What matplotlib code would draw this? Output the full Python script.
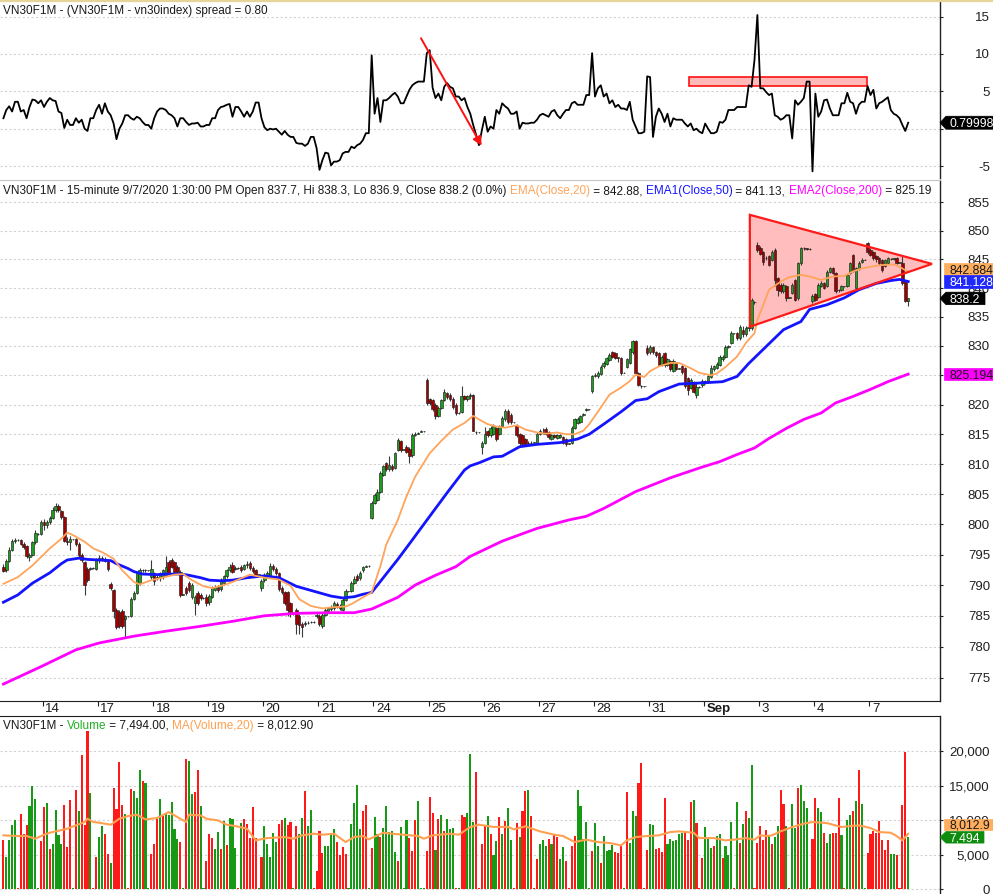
import numpy as np
import matplotlib
matplotlib.use("Agg")
import matplotlib.pyplot as plt
from matplotlib.patches import Polygon, Rectangle
from matplotlib.lines import Line2D
from matplotlib.ticker import FixedLocator, NullLocator, FuncFormatter
from matplotlib.transforms import ScaledTranslation

# ---------------------------------------------------------------
# VN30F1M 15-minute bars, 13 Aug - 7 Sep 2020
# ---------------------------------------------------------------
day_labels = ["14", "17", "18", "19", "20", "21", "24", "25", "26", "27",
              "28", "31", "Sep", "3", "4", "7"]
day_start = [13, 32, 51, 70, 89, 108, 127, 146, 165, 184, 203, 222, 241, 260, 279, 298]

opens = [
    793.0, 792.4, 794.0, 795.7, 797.2, 797.4, 797.4, 796.8, 796.4, 794.6, 794.9, 797.0, 798.4,
    798.4, 800.4, 799.8, 800.3, 801.0, 802.4, 803.0, 802.2, 801.2, 797.3, 797.0, 797.5, 797.5, 796.8, 794.9, 793.8, 792.6, 792.7, 792.8,
    792.6, 794.2, 794.4, 794.3, 794.0, 790.2, 789.2, 785.9, 785.6, 785.8, 784.4, 784.9, 785.0, 787.8, 788.7, 790.3, 792.4, 792.5, 792.4,
    791.3, 791.9, 791.2, 791.1, 791.3, 791.6, 793.8, 794.1, 793.8, 793.0, 792.2, 788.4, 789.5, 790.3, 788.1, 787.0, 788.7, 788.4, 787.9,
    788.1, 787.2, 788.1, 789.2, 789.7, 789.4, 790.3, 791.4, 792.4, 793.2, 792.7, 792.8, 793.0, 792.6, 793.2, 793.6, 792.8, 792.5, 791.7,
    789.6, 790.8, 791.5, 791.5, 793.1, 792.6, 792.0, 789.5, 788.9, 788.9, 787.0, 785.3, 786.0, 785.0, 783.6, 783.7, 783.8, 784.0, 784.0,
    785.0, 785.0, 783.4, 785.1, 785.8, 786.1, 786.2, 786.9, 786.6, 786.0, 787.6, 789.0, 789.0, 790.4, 791.5, 791.2, 792.4, 793.0, 793.1,
    801.0, 803.5, 804.0, 805.4, 808.2, 810.2, 809.1, 809.7, 809.3, 812.4, 813.8, 812.4, 812.9, 812.6, 811.5, 814.9, 815.1, 815.4, 815.5,
    824.2, 820.9, 820.8, 820.0, 818.1, 819.4, 820.8, 821.9, 821.7, 821.0, 819.9, 818.6, 818.8, 821.4, 821.0, 821.4, 821.6, 815.4, 815.3,
    812.8, 813.6, 815.5, 814.8, 815.0, 816.1, 815.0, 816.4, 817.5, 818.9, 818.3, 817.0, 816.6, 815.0, 814.8, 814.2, 813.6, 813.5, 813.6,
    813.6, 815.0, 815.3, 815.9, 815.3, 814.2, 814.8, 814.4, 814.5, 814.5, 814.2, 813.4, 813.6, 816.1, 816.9, 817.1, 818.3, 819.1, 819.2,
    822.3, 824.9, 824.8, 825.2, 826.5, 827.0, 827.6, 828.9, 828.8, 828.0, 828.0, 825.4, 826.4, 827.1, 828.9, 830.8, 825.4, 823.2, 823.1,
    829.6, 828.9, 829.8, 829.0, 828.8, 826.8, 828.8, 826.7, 827.4, 825.8, 827.1, 826.1, 826.5, 826.2, 824.5, 822.8, 823.9, 821.7, 823.0,
    823.3, 824.0, 823.9, 824.7, 826.0, 826.3, 826.7, 827.7, 828.2, 829.9, 830.5, 832.2, 832.2, 831.3, 832.8, 832.0, 833.1, 833.1, 837.6,
    847.5, 847.0, 846.3, 845.2, 845.5, 844.9, 846.6, 841.7, 840.6, 839.4, 840.3, 838.3, 839.1, 841.4, 838.2, 844.3, 846.9, 846.9, 846.8,
    837.7, 838.9, 838.4, 840.4, 840.9, 840.4, 842.8, 843.4, 842.6, 839.7, 839.7, 840.3, 840.3, 842.6, 845.8, 840.0, 843.4, 844.6, 844.9,
    847.8, 846.6, 846.3, 845.5, 845.2, 844.9, 843.9, 844.4, 845.0, 845.0, 845.2, 844.4, 844.3, 841.1, 837.7,
]
highs = [
    793.4, 794.3, 796.2, 797.6, 797.8, 797.5, 797.6, 797.0, 796.6, 795.2, 797.3, 799.0, 798.6,
    800.7, 800.8, 800.7, 801.4, 802.8, 803.5, 803.3, 802.4, 801.4, 797.9, 798.1, 797.6, 797.7, 797.0, 795.2, 794.0, 793.0, 793.0, 792.9,
    794.5, 794.9, 794.7, 794.6, 794.2, 790.5, 789.4, 786.2, 786.0, 786.1, 785.2, 785.0, 788.0, 789.0, 792.2, 792.8, 792.7, 792.6, 792.5,
    794.1, 792.2, 791.6, 792.2, 792.7, 794.7, 794.1, 794.4, 794.0, 793.3, 792.4, 788.5, 789.8, 790.6, 790.3, 788.3, 789.0, 788.7, 788.0,
    788.5, 788.5, 789.8, 790.0, 790.0, 791.1, 791.7, 792.7, 793.4, 793.8, 793.1, 792.9, 793.3, 793.5, 794.0, 793.9, 793.1, 792.6, 791.8,
    791.0, 792.0, 792.3, 793.6, 793.5, 792.9, 792.2, 789.8, 789.1, 789.1, 787.3, 785.4, 786.2, 785.3, 784.0, 784.1, 784.1, 784.2, 784.1,
    785.6, 785.3, 785.6, 786.3, 786.5, 786.7, 787.4, 787.2, 786.9, 787.9, 789.3, 789.1, 790.7, 791.4, 791.8, 792.3, 793.1, 793.3, 793.2,
    803.8, 805.2, 805.8, 808.8, 809.9, 810.4, 811.3, 810.0, 812.1, 814.4, 814.1, 812.5, 813.2, 812.9, 815.2, 815.3, 815.4, 815.7, 815.6,
    824.5, 821.2, 821.0, 820.2, 819.7, 821.0, 822.7, 822.2, 822.0, 821.3, 820.2, 818.7, 823.1, 821.7, 821.6, 822.0, 821.8, 815.6, 815.4,
    813.9, 816.3, 815.8, 816.4, 816.7, 816.3, 816.6, 818.1, 819.2, 819.2, 818.6, 817.1, 816.8, 815.2, 815.0, 814.4, 813.8, 813.9, 813.7,
    815.3, 815.9, 816.1, 816.2, 815.6, 815.0, 815.0, 815.0, 815.0, 814.7, 814.4, 813.5, 816.4, 817.8, 817.9, 818.3, 818.6, 819.4, 819.3,
    825.0, 825.4, 825.7, 826.7, 827.4, 828.2, 828.8, 829.2, 829.0, 828.2, 828.2, 825.5, 828.0, 829.6, 831.1, 831.0, 825.6, 823.4, 823.2,
    830.1, 830.1, 830.0, 829.2, 829.0, 828.5, 829.0, 828.0, 827.6, 827.7, 827.3, 826.2, 826.7, 826.4, 824.7, 824.5, 824.1, 823.6, 823.1,
    824.3, 824.2, 825.0, 826.7, 826.8, 827.3, 828.5, 828.5, 830.2, 830.2, 832.5, 832.3, 832.4, 833.6, 833.5, 833.4, 833.6, 838.2, 837.8,
    848.0, 847.3, 846.5, 845.6, 845.7, 846.6, 846.9, 842.0, 840.9, 840.9, 840.5, 838.4, 840.9, 841.6, 844.6, 847.2, 847.2, 847.0, 846.9,
    838.9, 839.2, 840.9, 841.2, 841.1, 843.1, 843.7, 843.6, 842.8, 839.9, 840.6, 840.4, 842.5, 844.6, 846.0, 843.7, 844.7, 845.2, 845.0,
    848.1, 846.9, 846.5, 845.8, 845.4, 845.1, 845.1, 845.4, 845.3, 845.3, 845.4, 844.5, 845.5, 841.3, 838.3,
]
lows = [
    792.1, 792.2, 793.8, 795.5, 796.9, 797.3, 796.5, 795.9, 794.4, 793.9, 794.7, 796.8, 798.2,
    798.2, 799.1, 799.4, 800.0, 800.8, 802.0, 802.0, 800.9, 797.0, 796.6, 795.8, 797.4, 796.4, 794.5, 793.8, 788.4, 790.5, 792.4, 792.7,
    792.4, 793.6, 793.9, 793.7, 792.3, 789.2, 784.6, 782.8, 783.0, 783.0, 781.6, 784.8, 784.8, 787.5, 788.5, 790.0, 792.2, 792.2, 792.3,
    791.0, 790.0, 790.9, 790.7, 791.0, 791.4, 791.6, 792.8, 791.9, 791.8, 788.0, 788.3, 788.3, 788.9, 787.8, 785.1, 786.7, 787.5, 787.8,
    786.6, 786.8, 787.9, 789.0, 788.8, 789.1, 790.0, 791.2, 792.2, 791.9, 792.4, 792.7, 792.1, 792.4, 792.8, 792.5, 792.0, 791.5, 791.6,
    789.0, 790.5, 791.2, 791.3, 792.3, 791.6, 789.1, 788.5, 786.7, 785.0, 784.8, 785.2, 782.1, 782.0, 781.5, 783.3, 783.6, 783.8, 783.9,
    784.7, 783.3, 783.0, 784.9, 785.5, 785.8, 785.9, 786.2, 786.0, 785.8, 787.4, 788.9, 788.8, 790.2, 790.6, 790.9, 792.2, 792.9, 793.0,
    800.8, 803.3, 803.8, 805.2, 808.0, 808.8, 808.9, 808.8, 809.1, 812.2, 812.1, 812.3, 811.8, 810.2, 811.2, 814.7, 815.0, 815.3, 815.4,
    820.0, 820.0, 818.9, 817.5, 817.9, 819.2, 820.6, 821.0, 820.7, 819.3, 818.3, 818.5, 818.6, 820.8, 820.7, 821.0, 815.5, 815.1, 815.2,
    811.6, 813.4, 814.5, 814.6, 814.8, 813.9, 814.8, 816.2, 817.3, 816.8, 816.8, 816.9, 814.5, 812.8, 813.0, 813.2, 813.2, 813.3, 813.5,
    813.4, 814.8, 815.0, 814.8, 814.2, 814.0, 814.3, 814.2, 814.3, 813.4, 813.1, 813.3, 813.3, 815.9, 816.7, 816.9, 818.0, 819.0, 819.1,
    822.0, 824.7, 824.5, 825.0, 826.3, 826.8, 827.4, 828.0, 827.7, 827.2, 825.0, 825.3, 826.2, 826.9, 828.7, 825.1, 823.1, 822.9, 823.0,
    828.5, 828.7, 828.6, 828.2, 826.5, 826.6, 826.4, 826.5, 825.8, 825.6, 825.9, 826.0, 825.2, 822.8, 821.7, 822.6, 822.0, 821.1, 822.9,
    823.0, 823.5, 823.7, 824.5, 825.8, 826.1, 826.5, 827.5, 828.0, 829.6, 830.3, 832.1, 831.0, 831.1, 831.6, 831.8, 832.6, 832.8, 837.3,
    846.3, 845.7, 844.0, 844.8, 843.8, 844.7, 840.3, 838.6, 839.1, 839.2, 837.8, 838.2, 838.9, 837.7, 838.0, 844.0, 846.7, 846.6, 846.7,
    837.4, 837.8, 838.2, 840.2, 839.8, 840.2, 842.6, 842.4, 839.1, 839.3, 839.5, 840.2, 840.1, 842.4, 842.8, 839.4, 843.2, 844.4, 844.8,
    846.0, 845.5, 844.9, 844.6, 844.0, 842.8, 843.7, 844.2, 844.8, 844.8, 844.2, 844.3, 840.5, 837.5, 836.9,
]
closes = [
    792.3, 794.0, 795.7, 797.2, 797.4, 797.4, 796.7, 796.3, 794.8, 794.9, 797.0, 798.5, 798.4,
    800.4, 799.8, 800.3, 801.0, 802.4, 803.0, 802.3, 801.2, 797.2, 797.0, 797.5, 797.5, 796.7, 794.9, 794.1, 790.0, 790.8, 792.8, 792.8,
    794.2, 794.5, 794.3, 794.0, 792.6, 789.6, 785.8, 783.2, 783.3, 783.4, 784.9, 784.9, 787.8, 788.7, 791.9, 792.5, 792.5, 792.4, 792.4,
    792.6, 790.6, 791.3, 791.9, 792.4, 792.9, 791.9, 793.0, 792.2, 792.2, 788.4, 788.4, 788.7, 789.2, 790.0, 788.1, 787.0, 787.9, 787.9,
    787.0, 788.2, 789.5, 789.7, 789.2, 790.8, 791.4, 792.4, 793.0, 792.2, 792.8, 792.8, 792.4, 793.2, 793.5, 792.8, 792.3, 791.7, 791.7,
    790.6, 791.6, 791.9, 793.1, 792.6, 791.9, 789.4, 788.8, 787.0, 786.0, 785.3, 785.3, 783.6, 783.5, 783.2, 783.8, 783.9, 784.0, 784.0,
    785.2, 783.6, 785.2, 786.0, 786.2, 786.4, 787.0, 786.5, 786.3, 787.6, 789.0, 789.0, 790.4, 791.0, 790.9, 792.0, 792.9, 793.1, 793.1,
    803.5, 804.9, 805.4, 808.5, 809.6, 809.1, 809.9, 809.1, 811.8, 814.0, 812.4, 812.4, 812.1, 811.3, 814.9, 815.0, 815.2, 815.5, 815.5,
    820.3, 820.3, 819.2, 818.1, 819.4, 820.8, 822.2, 821.3, 821.0, 819.6, 818.6, 818.6, 821.4, 821.0, 821.4, 821.6, 815.6, 815.3, 815.3,
    813.6, 815.0, 814.8, 816.1, 816.4, 814.2, 816.4, 817.8, 818.9, 817.0, 817.0, 817.0, 814.8, 813.6, 813.3, 813.4, 813.5, 813.6, 813.6,
    815.0, 815.6, 815.3, 815.0, 814.5, 814.8, 814.5, 814.8, 814.8, 813.6, 813.4, 813.4, 816.1, 817.5, 817.5, 818.0, 818.4, 819.2, 819.2,
    824.8, 825.1, 825.4, 826.4, 827.1, 827.9, 828.5, 828.2, 828.0, 828.0, 825.4, 825.4, 827.8, 829.4, 830.8, 825.4, 823.4, 823.1, 823.1,
    828.8, 829.8, 828.9, 828.5, 826.8, 828.2, 826.7, 827.7, 826.1, 827.4, 826.1, 826.1, 825.5, 823.1, 822.5, 824.2, 822.2, 823.0, 823.0,
    824.1, 823.8, 824.8, 826.2, 826.5, 827.0, 828.2, 828.2, 829.9, 829.9, 832.2, 832.2, 831.3, 833.2, 832.0, 833.1, 833.3, 838.0, 837.5,
    846.6, 846.0, 844.6, 845.2, 844.0, 846.3, 841.4, 839.7, 839.4, 840.6, 838.3, 838.3, 840.6, 838.0, 844.3, 846.9, 847.0, 846.8, 846.8,
    838.6, 838.0, 840.6, 840.9, 840.0, 842.8, 843.4, 842.6, 839.4, 839.6, 840.3, 840.3, 842.3, 844.3, 843.0, 843.4, 844.4, 844.9, 844.9,
    846.3, 845.8, 845.2, 845.0, 844.3, 843.1, 844.9, 845.2, 845.1, 845.2, 844.4, 844.4, 840.8, 837.7, 838.2,
]
volume = [
    7050, 4640, 7150, 9320, 9950, 150, 10820, 8020, 9320, 12030, 14920, 12990, 150,
    6910, 11880, 12460, 5750, 6470, 11500, 7870, 6520, 12220, 6090, 12940, 150, 14300, 11300, 19470, 9230, 22900, 13860, 150,
    4690, 7580, 9130, 7920, 5020, 3820, 14630, 11640, 18450, 12120, 10920, 150, 14490, 14250, 13190, 17190, 15650, 15410, 150,
    5120, 6570, 10090, 12990, 10580, 10870, 10670, 12560, 8650, 7250, 6860, 150, 18790, 18550, 13810, 14060, 17190, 11980, 150,
    4110, 8020, 7390, 5750, 8260, 5840, 9800, 6380, 10340, 10090, 5940, 150, 9560, 10090, 9470, 7390, 11930, 7390, 150,
    4640, 9080, 6570, 4640, 8110, 6810, 9470, 9950, 10290, 9320, 9710, 150, 9080, 7920, 10290, 14150, 9130, 11400, 150,
    2560, 8360, 5220, 6180, 6230, 7970, 8740, 6810, 4880, 6090, 5120, 150, 9370, 12460, 15120, 8650, 11300, 12220, 150,
    5940, 10430, 8020, 7530, 8840, 12030, 8260, 8360, 5360, 4060, 8980, 150, 9950, 7390, 5510, 10050, 12700, 150, 150,
    5560, 13330, 11060, 5700, 10090, 10670, 8400, 10090, 8650, 8840, 150, 150, 10770, 10430, 11060, 19610, 9710, 16950, 150,
    6570, 9230, 10530, 7920, 4880, 6910, 10430, 7970, 9800, 11740, 7050, 150, 9610, 7530, 11350, 14150, 14350, 10530, 150,
    4400, 6470, 7100, 6180, 7290, 6470, 7870, 7580, 4300, 6130, 4060, 150, 6230, 7630, 14300, 12030, 7290, 9760, 150,
    5550, 9610, 6230, 3820, 7680, 5510, 5600, 6330, 5360, 5220, 6330, 150, 14060, 6620, 11350, 10580, 15360, 18260, 150,
    5700, 9420, 9320, 5750, 5940, 5360, 13190, 6470, 7290, 7000, 7050, 7920, 8070, 8400, 7050, 12650, 12850, 9610, 150,
    4540, 8980, 7290, 5940, 6230, 7680, 7920, 4540, 6230, 4880, 9660, 150, 12650, 6620, 9420, 11350, 10290, 17970, 150,
    6620, 9180, 7100, 8600, 7780, 6520, 7580, 9180, 14300, 12320, 9180, 150, 12320, 8840, 14590, 15070, 12750, 11790, 150,
    7290, 13190, 11740, 11160, 8110, 6670, 7970, 8160, 8110, 13190, 7780, 150, 10050, 10770, 11350, 12750, 17190, 12320, 150,
    5220, 8020, 8360, 8110, 9900, 7050, 5600, 7050, 5020, 5120, 4970, 150, 12170, 19850, 7494,
]
# r = red (down) volume bar, g = green (up) volume bar
vol_colors = ("rggggrrrrgggg"
              "rrgrggggrrrgrgrrrgr" "rggrrgrrrrgrrgggrgg" "rrrgrgggggrgrggrrgg"
              "rrrggrgrgggrgrrrrrg" "rgggggrrgrrgrggrggr" "rrrggggrrrrgggggrrg"
              "rggrgggggrgggrrrggg" "rrrgrgrgggrgrrgggrr" "rrgrggrgrggrrgrrgrr"
              "rgggrgrrggrrrrggggg" "rggrggggrrrgrgggrrr" "rggrrrrggggggrrrgrr"
              "rgggrggrgggrgrgrggr" "rrrrgrggrrgrggrgggr" "rrggrggrrrgrggrgrgg"
              "rrrrrrrrggrrrrg")
spread = [
    1.4, 2.5, 3.0, 2.3, 3.6, 3.6, 2.3, 2.5, 1.4, 2.9, 3.9, 3.8, 3.4,
    3.8, 2.9, 3.6, 4.1, 3.8, 3.7, 2.3, 2.1, 0.1, 1.2, 0.5, 0.5, 1.4, 0.8, 1.2, 0.0, -0.3, 1.4, 1.4,
    2.5, 3.2, 2.0, 3.4, 2.3, 1.8, 0.7, -1.4, 0.0, 0.7, 1.8, 1.8, 1.4, 1.2, 1.6, 1.4, 0.9, 0.5, 0.5,
    0.0, 1.4, 2.3, 2.7, 2.7, 2.5, 2.0, 1.8, 1.4, 0.3, 1.4, 1.4, 0.9, 0.5, 0.7, 0.7, 0.8, 0.3, 0.3,
    0.5, 0.5, 1.4, 1.4, 2.5, 2.9, 3.0, 3.2, 3.3, 1.6, 2.9, 2.9, 2.3, 1.6, 2.3, 1.6, 2.3, 3.5, 3.5,
    1.4, 0.2, -0.2, 0.0, -0.1, 0.0, -0.4, -0.8, -0.3, -0.8, -1.1, -1.1, -1.9, -2.0, -2.0, -2.3, -2.0, -1.1, -1.1,
    -2.6, -5.5, -4.2, -3.2, -3.3, -4.9, -4.4, -4.4, -4.2, -3.3, -3.1, -3.1, -2.4, -2.6, -2.2, -2.0, -1.5, -0.6, -0.6,
    9.8, 2.0, 4.1, 0.9, 3.8, 3.8, 4.1, 4.5, 4.8, 4.3, 3.4, 3.4, 4.3, 5.2, 5.8, 6.1, 6.3, 6.3, 6.3,
    10.1, 10.5, 5.5, 4.1, 4.7, 3.8, 5.6, 6.1, 5.6, 5.4, 4.3, 4.3, 3.8, 4.1, 2.9, 2.0, 0.5, -0.8, -2.2,
    -0.2, 1.6, -0.4, 0.3, 0.0, 2.5, 2.0, 3.4, 3.0, 2.7, 2.0, 2.0, 2.3, 0.0, 0.8, 0.7, 0.7, 0.8, 0.8,
    1.2, 1.8, 2.0, 1.8, 1.6, 2.3, 2.5, 1.8, 1.4, 2.0, 2.5, 2.5, 3.4, 3.6, 3.2, 3.2, 3.2, 4.5, 4.5,
    10.1, 4.3, 5.4, 5.8, 4.3, 4.7, 3.4, 3.8, 2.9, 3.2, 2.7, 2.7, 2.5, 3.6, 1.2, 0.3, -0.6, -0.6, -0.4,
    7.0, 6.9, -1.1, 1.6, 2.7, 2.0, 0.9, 2.0, 0.3, 1.4, 1.2, 1.2, 1.2, 0.7, 0.3, 0.7, -0.2, 0.0, -0.4,
    -0.6, 0.7, 0.0, -0.6, -0.6, -0.4, 0.9, 0.8, 1.2, 2.5, 2.5, 2.5, 2.9, 2.9, 2.9, 2.9, 5.8, 5.6, 9.2,
    15.2, 5.4, 5.4, 4.9, 4.5, 4.7, 1.8, 1.6, 1.2, 1.4, 1.8, 1.8, -1.3, 3.8, 3.2, 3.6, 4.1, 6.3, 6.3,
    -5.7, 4.7, 1.6, 2.3, 3.8, 3.9, 2.7, 1.8, 1.8, 1.8, 3.4, 3.4, 4.8, 3.6, 3.4, 2.0, 3.2, 3.6, 3.6,
    5.7, 4.5, 5.2, 2.7, 3.4, 3.6, 3.9, 4.2, 2.5, 2.0, 1.8, 1.4, 0.5, -0.3, 0.8,
]

# moving averages sampled along the chart (bar number -> value)
ema20_x = [0, 5, 10, 16, 20, 22, 24, 28, 31, 34, 38, 41, 45, 47, 51, 54, 59, 62, 65, 69,
           72, 76, 79, 83, 85, 90, 95, 99, 102, 106, 110, 114, 118, 120, 124, 127, 130, 132, 136, 139,
           142, 147, 151, 155, 159, 162, 164, 167, 170, 173, 177, 180, 184, 187, 191, 194, 197, 200, 202, 206,
           209, 213, 216, 218, 221, 223, 226, 230, 233, 237, 240, 244, 246, 249, 253, 256, 259, 260, 262, 264,
           268, 271, 275, 278, 282, 286, 290, 293, 296, 300, 303, 307, 309, 311, 312]
ema20_y = [790.2, 791.3, 793.2, 796.0, 797.6, 798.6, 798.2, 797.1, 796.0, 795.4, 794.3, 792.4, 790.5, 790.1, 790.8, 791.1, 791.7, 791.8, 790.8, 789.8,
           789.5, 790.0, 790.5, 791.3, 791.7, 791.2, 790.9, 789.9, 787.7, 786.6, 786.2, 786.4, 786.5, 786.9, 788.0, 788.8, 793.1, 796.6, 800.7, 804.6,
           807.9, 811.8, 813.9, 815.8, 816.9, 818.1, 817.5, 816.7, 816.3, 816.1, 816.5, 815.8, 815.3, 815.1, 815.3, 815.0, 815.0, 815.6, 816.7, 819.5,
           821.7, 822.9, 824.0, 825.1, 824.7, 825.7, 826.5, 827.1, 827.1, 826.2, 825.4, 825.0, 825.3, 826.4, 828.2, 830.5, 832.2, 834.5, 837.0, 839.7,
           841.1, 841.9, 842.3, 842.0, 841.4, 842.0, 842.1, 842.9, 843.4, 843.8, 844.0, 844.1, 843.7, 843.1, 842.88]
ema50_x = [0, 5, 10, 16, 20, 22, 26, 29, 33, 37, 39, 43, 45, 48, 53, 56, 61, 64, 68, 71,
           75, 79, 84, 90, 95, 101, 107, 113, 117, 121, 124, 127, 130, 136, 141, 147, 153, 159, 161, 164,
           169, 172, 175, 178, 184, 192, 198, 202, 207, 213, 218, 222, 226, 233, 241, 248, 253, 257, 263, 269,
           275, 278, 284, 290, 295, 301, 306, 309, 312]
ema50_y = [787.2, 788.4, 790.3, 792.0, 793.5, 794.1, 794.4, 794.2, 794.1, 794.0, 793.5, 792.7, 792.2, 791.8, 791.7, 791.8, 791.8, 791.6, 791.2, 790.8,
           790.7, 790.8, 791.2, 791.5, 791.2, 789.8, 789.0, 788.2, 787.9, 788.1, 788.5, 788.8, 790.6, 794.2, 797.4, 801.3, 805.2, 809.0, 809.7, 810.2,
           811.2, 811.3, 812.1, 812.9, 813.3, 813.6, 814.2, 815.0, 816.7, 818.8, 820.7, 821.0, 822.2, 823.5, 823.7, 823.9, 824.8, 827.0, 829.9, 832.8,
           834.2, 836.3, 837.1, 838.3, 839.7, 840.8, 841.3, 841.5, 841.13]
ema200_x = [0, 13, 25, 33, 45, 56, 68, 79, 90, 101, 113, 121, 127, 136, 142, 149, 156, 161, 172, 184,
            195, 201, 207, 218, 230, 241, 247, 253, 259, 264, 270, 276, 282, 287, 293, 299, 305, 312]
ema200_y = [774.0, 776.8, 779.5, 780.6, 781.7, 782.5, 783.3, 784.1, 785.0, 785.4, 785.5, 785.5, 786.1, 788.0, 790.0, 791.6, 793.0, 794.7, 797.2, 799.3,
            800.7, 801.3, 802.6, 805.4, 807.7, 809.5, 810.4, 811.6, 812.7, 814.3, 816.0, 817.5, 818.6, 820.3, 821.4, 822.6, 823.9, 825.19]
vma_x = [0, 5, 8, 11, 14, 16, 22, 28, 29, 31, 33, 37, 40, 43, 46, 49, 53, 57, 60, 63,
         64, 68, 70, 74, 77, 80, 84, 87, 91, 97, 100, 103, 107, 110, 114, 118, 121, 124, 126, 131,
         134, 138, 143, 145, 148, 154, 157, 161, 164, 169, 174, 176, 180, 185, 190, 193, 197, 201, 205, 209,
         213, 215, 218, 222, 226, 230, 233, 238, 240, 245, 249, 253, 256, 259, 261, 263, 265, 268, 272, 276,
         279, 284, 289, 292, 295, 299, 302, 306, 308, 310, 312]
vma_y = [7780, 7680, 7680, 7290, 7870, 8160, 8740, 9710, 10190, 9710, 9610, 9320, 10190, 10580, 10770, 10090, 10290, 11160, 10430, 9710,
         10770, 10670, 10190, 9950, 9320, 9130, 8740, 7050, 7390, 7530, 7290, 7780, 8020, 7870, 8020, 6810, 7530, 7680, 7200, 8160,
         8020, 7870, 7680, 7290, 7780, 8020, 7870, 8980, 9320, 9000, 9000, 8650, 9080, 8360, 7870, 7680, 6810, 7150, 6810, 6670,
         6330, 7050, 7530, 7680, 7780, 8260, 8360, 8160, 7390, 7390, 7050, 7200, 7390, 7150, 7780, 7680, 7780, 8360, 8980, 9470,
         9710, 9560, 8980, 9130, 9230, 8840, 8260, 8160, 7680, 7050, 8012.9]

# hand-drawn annotations (bar number, value)
tri_bars = [257.4, 320.2, 257.4]
tri_prices = [852.8, 844.2, 833.3]
arrow_bars = [144.0, 164.9]
arrow_vals = [12.1, -2.27]
box_bars = [236.4, 297.7]
box_vals = [5.71, 6.87]

n = len(closes)
for arr in (opens, highs, lows, volume, spread):
    assert len(arr) == n, len(arr)
assert len(vol_colors) == n
assert len(ema20_x) == len(ema20_y) and len(ema50_x) == len(ema50_y)
assert len(ema200_x) == len(ema200_y) and len(vma_x) == len(vma_y)

# ---------------------------------------------------------------
W, H = 993, 894
plt.rcParams["font.family"] = ["Liberation Sans", "DejaVu Sans"]
TXT = "#1a1a1a"

fig = plt.figure(figsize=(W / 100, H / 100), dpi=100)
fig.patch.set_facecolor("white")


def px_axes(top, bottom):
    return fig.add_axes([0, 1 - bottom / H, 940 / W, (bottom - top) / H])


ax_top = px_axes(2, 178)
ax_main = px_axes(180, 701)
ax_vol = px_axes(716, 894)
ax_main.set_yscale("log")

x = np.arange(n)
GRID = dict(color="#D2D2D2", linestyle=(0, (2, 2)), linewidth=0.8)

for ax in (ax_top, ax_main, ax_vol):
    ax.set_xlim(-1.17, 322.97)
    for s in ("left", "top", "bottom"):
        ax.spines[s].set_visible(False)
    ax.spines["right"].set_color("#202020")
    ax.spines["right"].set_linewidth(1.0)
    ax.yaxis.tick_right()
    ax.yaxis.grid(True, **GRID)
    ax.set_axisbelow(True)
    ax.tick_params(axis="x", bottom=False, top=False, labelbottom=False, labeltop=False)


def hide_covered(covered, fmt):
    # tick labels that sit under a last-value tag are not shown
    return FuncFormatter(lambda v, p: "" if round(v) in covered else fmt(v))


# --- spread pane ---
ax_top.set_ylim(-6.59, 16.94)
ax_top.yaxis.set_major_locator(FixedLocator([-5, 0, 5, 10, 15]))
ax_top.yaxis.set_major_formatter(hide_covered({0}, lambda v: f"{v:.0f}"))
ax_top.add_patch(Rectangle((box_bars[0], box_vals[0]), box_bars[1] - box_bars[0],
                           box_vals[1] - box_vals[0], fc="#FFB9B9", ec="#FF1010",
                           lw=1.2, zorder=2))
ax_top.plot(x, spread, color="black", lw=1.3, zorder=3)
ax_top.annotate("", xy=(arrow_bars[1], arrow_vals[1]), xytext=(arrow_bars[0], arrow_vals[0]),
                arrowprops=dict(arrowstyle="-|>", color="#FF1010", lw=1.4,
                                mutation_scale=13, shrinkA=0, shrinkB=0), zorder=4)

# --- price pane ---
ax_main.set_ylim(771.30, 858.96)
ax_main.yaxis.set_major_locator(FixedLocator(list(range(775, 860, 5))))
ax_main.yaxis.set_minor_locator(NullLocator())
ax_main.yaxis.set_major_formatter(hide_covered({825}, lambda v: f"{v:.0f}"))
ax_main.spines["bottom"].set_visible(True)
ax_main.spines["bottom"].set_color("#202020")
ax_main.spines["top"].set_visible(True)
ax_main.spines["top"].set_color("#C4C4C4")

ax_main.add_patch(Polygon(list(zip(tri_bars, tri_prices)), closed=True,
                          fc="#FFBDBD", ec="none", zorder=2))

o = np.array(opens)
c = np.array(closes)
hi = np.array(highs)
lo = np.array(lows)
up = c >= o
b_lo = np.minimum(o, c)
b_h = np.maximum(np.abs(c - o), 0.06)
ax_main.vlines(x, lo, hi, color="#3a3a3a", lw=0.8, zorder=4)
ax_main.bar(x[up], b_h[up], bottom=b_lo[up], width=0.85, color="#1E9E1E",
            edgecolor="#202020", linewidth=0.45, zorder=5)
ax_main.bar(x[~up], b_h[~up], bottom=b_lo[~up], width=0.85, color="#A00000",
            edgecolor="#202020", linewidth=0.45, zorder=5)

ax_main.plot(ema200_x, ema200_y, color="#FF00FF", lw=2.0, zorder=6)
ax_main.plot(ema50_x, ema50_y, color="#1414FF", lw=2.0, zorder=6)
ax_main.plot(ema20_x, ema20_y, color="#FFA45A", lw=1.3, zorder=6)
ax_main.add_patch(Polygon(list(zip(tri_bars, tri_prices)), closed=True,
                          fill=False, ec="#FF1A1A", lw=1.6, zorder=7))

# date axis
ax_main.set_xticks(np.array(day_start) + 0.6)
ax_main.tick_params(axis="x", bottom=True, direction="out", length=3.5, width=0.8,
                    color="#202020", labelbottom=False)
dtrans = ax_main.get_xaxis_transform() + ScaledTranslation(2.5 / 100, 0, fig.dpi_scale_trans)
for g, lab in zip(day_start, day_labels):
    ax_main.text(g + 0.6, -0.004, lab, transform=dtrans, va="top", ha="left",
                 fontsize=9.5, color=TXT, clip_on=False,
                 family=["Liberation Sans Narrow", "Liberation Sans", "DejaVu Sans"],
                 fontweight="bold" if lab == "Sep" else "normal")

# --- volume pane ---
ax_vol.set_ylim(-725, 25085)
ax_vol.yaxis.set_major_locator(FixedLocator([0, 5000, 10000, 15000, 20000]))
ax_vol.yaxis.set_major_formatter(FuncFormatter(lambda v, p: f"{v:,.0f}"))
ax_vol.spines["top"].set_visible(True)
ax_vol.spines["top"].set_color("#202020")
bar_cols = ["#FF1A1A" if ch == "r" else "#169A16" for ch in vol_colors]
ax_vol.bar(x, volume, width=0.7, color=bar_cols, antialiased=False, zorder=3)
ax_vol.plot(vma_x, vma_y, color="#FFA050", lw=1.5, zorder=4)

for ax in (ax_top, ax_main, ax_vol):
    ax.tick_params(axis="y", direction="out", length=2.2, width=0.8, colors="#202020",
                   labelsize=9.5, pad=33.8)
    plt.setp(ax.get_yticklabels(), ha="right")

# top border of the chart window
fig.add_artist(Line2D([0, 1], [1 - 0.8 / H] * 2, transform=fig.transFigure,
                      color="#E6D49A", lw=1.6))

# --- headers ---
renderer = fig.canvas.get_renderer()


def header(y_base, parts, size=8.5):
    xpos = 3.0
    for s, col in parts:
        t = fig.text(xpos / W, 1 - y_base / H, s, color=col, fontsize=size,
                     va="baseline", ha="left", zorder=11)
        xpos += t.get_window_extent(renderer).width


header(14, [("VN30F1M - (VN30F1M - vn30index) spread = 0.80", TXT)])
header(194, [("VN30F1M - 15-minute 9/7/2020 1:30:00 PM Open 837.7, Hi 838.3, "
              "Lo 836.9, Close 838.2 (0.0%) ", TXT),
             ("EMA(Close,20)", "#FFA45A"), (" = 842.88, ", TXT),
             ("EMA1(Close,50)", "#1414FF"), (" = 841.13, ", TXT),
             ("EMA2(Close,200)", "#FF00FF"), (" = 825.19", TXT)])
header(729, [("VN30F1M - ", TXT), ("Volume", "#22B022"), (" = 7,494.00, ", TXT),
             ("MA(Volume,20)", "#FFA050"), (" = 8,012.90", TXT)])


# --- last-value tags on the right axis ---
def img_y(ax, v):
    return H - ax.transData.transform((0, v))[1]


def tag(yc, text, fc, tc, arrow=False, h=12, x_end=995):
    if arrow:
        pts = [(940, yc), (946, yc - h / 2), (x_end, yc - h / 2), (x_end, yc + h / 2), (946, yc + h / 2)]
    else:
        pts = [(944, yc - h / 2), (x_end, yc - h / 2), (x_end, yc + h / 2), (944, yc + h / 2)]
    fig.add_artist(Polygon([(px / W, 1 - py / H) for px, py in pts], closed=True,
                           transform=fig.transFigure, fc=fc, ec=fc, lw=0.5, zorder=10))
    fig.text(949 / W, 1 - yc / H, text, color=tc, fontsize=8.8, va="center_baseline",
             ha="left", zorder=11)


tag(img_y(ax_top, spread[-1]), "0.79998", "black", "white", arrow=True, h=13)
y_e50 = img_y(ax_main, ema50_y[-1])
tag(min(img_y(ax_main, ema20_y[-1]), y_e50 - 12.5), "842.884", "#FFAE5E", TXT, h=12.5)
tag(y_e50, "841.128", "#1E28FF", "white", h=12.5)
tag(img_y(ax_main, closes[-1]), "838.2", "black", "white", arrow=True, h=12.5, x_end=985)
tag(img_y(ax_main, ema200_y[-1]), "825.194", "#FF00FF", TXT, h=12.5)
y_vol = img_y(ax_vol, volume[-1])
tag(min(img_y(ax_vol, vma_y[-1]), y_vol - 13), "8,012.9", "#FFAE5E", TXT, h=11.5)
tag(y_vol, "7,494", "#0E8C0E", "white", arrow=True, h=11.5, x_end=984)

fig.savefig("out.png", dpi=100)
